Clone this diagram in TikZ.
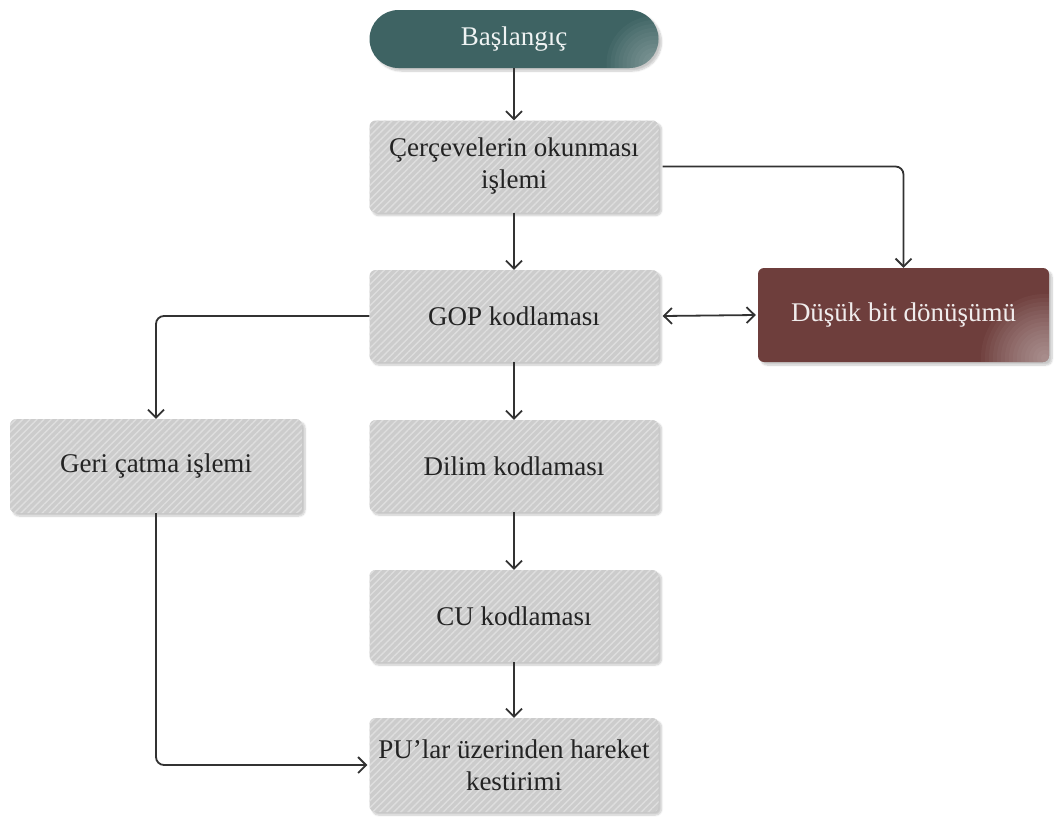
\documentclass[tikz,border=0pt]{standalone}
\usepackage{fontspec}
\setmainfont{Liberation Serif}
\usetikzlibrary{arrows.meta,patterns.meta,shadows.blur}

\definecolor{linegray}{RGB}{50,50,50}
\definecolor{boxgray}{RGB}{204,204,204}
\definecolor{stripe}{RGB}{222,222,222}
\definecolor{textdark}{RGB}{35,35,35}
\definecolor{tealfill}{RGB}{62,99,99}
\definecolor{maroonfill}{RGB}{110,62,60}

\tikzset{
  procbox/.style={rectangle, rounded corners=6pt, minimum width=289pt,
    minimum height=92pt, fill=boxgray, text=textdark, align=center,
    font=\fontsize{27}{32}\selectfont,
    blur shadow={shadow xshift=3pt, shadow yshift=-3pt, shadow blur steps=8, shadow opacity=22},
    postaction={pattern={Lines[angle=45,distance=5pt,line width=1.4pt]}, pattern color=stripe}},
  % soft light patch in the lower right corner of the coloured boxes
  sheen/.style={path picture={
    \foreach \r in {4,8,...,#1}
      \fill[white, opacity=0.035]
        ([xshift=-4pt,yshift=4pt]path picture bounding box.south east) circle (\r pt);}},
  startbox/.style={rectangle, rounded corners=29pt, minimum width=289pt,
    minimum height=58pt, fill=tealfill, text=white!92!tealfill, align=center,
    font=\fontsize{27}{32}\selectfont, sheen=48,
    blur shadow={shadow xshift=3pt, shadow yshift=-3pt, shadow blur steps=8, shadow opacity=22}},
  sidebox/.style={rectangle, rounded corners=6pt, minimum width=291pt,
    minimum height=94pt, fill=maroonfill, text=white!90!maroonfill, align=center,
    font=\fontsize{27}{32}\selectfont, sheen=64,
    blur shadow={shadow xshift=3pt, shadow yshift=-3pt, shadow blur steps=8, shadow opacity=22}},
  conn/.style={draw=linegray, line width=1.8pt, rounded corners=8pt,
    -{Straight Barb[length=8pt,width=16pt]}},
  biconn/.style={draw=linegray, line width=1.8pt,
    {Straight Barb[length=8pt,width=16pt]}-{Straight Barb[length=8pt,width=16pt]}}
}

\begin{document}
\begin{tikzpicture}[x=1pt,y=-1pt]
  \useasboundingbox (0,0) rectangle (1055,817);

  % nodes
  \node[startbox] (start) at (514,39) {Başlangıç};
  \node[procbox] (read) at (514,166.5) {Çerçevelerin okunması\\işlemi};
  \node[procbox] (gop) at (514,316) {GOP kodlaması};
  \node[sidebox] (low) at (903.5,315) {Düşük bit dönüşümü};
  \node[procbox, minimum width=292pt, minimum height=94pt] (geri) at (156,466) {Geri çatma işlemi};
  \node[procbox] (dilim) at (514,466) {Dilim kodlaması};
  \node[procbox] (cu) at (514,616) {CU kodlaması};
  \node[procbox, minimum height=94pt] (pu) at (514,765) {PU'lar üzerinden hareket\\kestirimi};

  % connectors
  \draw[conn] (start) -- (read);
  \draw[conn] (read) -- (gop);
  \draw[conn] ([xshift=4pt]read.east) -| (low.north);
  \draw[biconn] ([xshift=4pt]gop.east) -- ([xshift=-2pt]low.west);
  \draw[conn] (gop.west) -| (geri.north);
  \draw[conn] (gop) -- (dilim);
  \draw[conn] (dilim) -- (cu);
  \draw[conn] (cu) -- (pu);
  \draw[conn] (geri.south) |- ([xshift=-2pt]pu.west);
\end{tikzpicture}
\end{document}
